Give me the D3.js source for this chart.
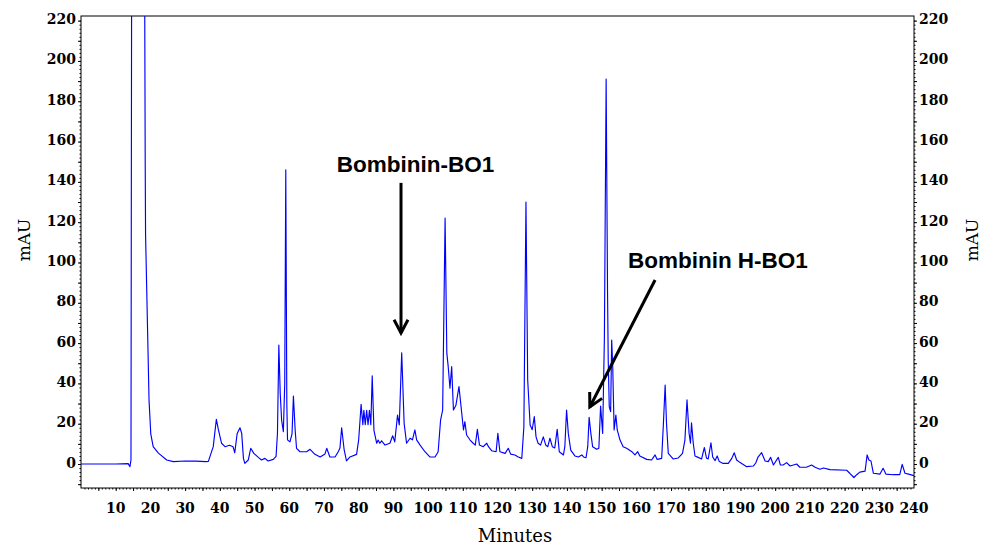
<!DOCTYPE html>
<html>
<head>
<meta charset="utf-8">
<script src="https://cdn.jsdelivr.net/npm/d3@7/dist/d3.min.js"></script>
<style>
  body { margin: 0; background: #fff; }
  .tick-label { font-family: "DejaVu Serif", serif; font-weight: bold; font-size: 14px; fill: #000; }
  .axis-title { font-family: "DejaVu Serif", serif; font-size: 18px; fill: #000; }
  .note { font-family: "Liberation Sans", Arial, sans-serif; font-weight: bold; font-size: 22.5px; fill: #000; }
</style>
</head>
<body>
<div id="chart"></div>
<script>
// retention time (minutes) and absorbance (mAU)
const minutes = [
  0, 5, 10, 13.6, 14.1, 14.4, 14.6, 18.3, 18.5, 18.6, 19.2, 19.6, 20.1, 20.8, 22.3, 24.7, 26.6, 30, 33, 36, 36.7,
  38.1, 39.0, 39.6, 40.5, 41.5, 42.8, 43.8, 44.3, 45.0, 45.8, 46.3, 46.8, 47.2, 48.2, 48.9, 49.8, 51.1, 52.0, 53.0,
  53.9, 55.4, 56.2, 56.6, 57.0, 57.4, 57.8, 58.3, 58.7, 59.0, 59.3, 59.5, 60.2, 60.8, 61.2, 61.7, 62.1, 63.1, 65,
  66, 67.4, 68.9, 70.3, 70.8, 71.7, 73.2, 74.1, 74.6, 75.1, 75.8, 76.5, 77.5, 79.4, 80.0, 80.4, 80.7, 81.2, 81.5,
  81.9, 82.3, 82.7, 83.1, 83.5, 83.9, 84.4, 85.2, 85.6, 86.1, 86.6, 87.6, 89, 89.8, 90.4, 91.2, 91.7, 92.4, 93.1,
  93.8, 94.8, 95.5, 96.2, 96.7, 97.7, 99.1, 100.5, 102, 102.9, 103.6, 104.2, 104.9, 105.4, 105.8, 106.3, 106.8,
  107.3, 108.0, 108.9, 109.7, 110.2, 110.6, 111.1, 112.1, 113, 113.6, 114.2, 114.8, 115.9, 116.9, 117.4, 118.3,
  119.6, 120.1, 120.7, 122.2, 123.1, 123.8, 125, 126, 127, 127.6, 128.2, 128.7, 129.4, 130.0, 130.6, 131.1, 131.7,
  132.4, 133.2, 133.9, 134.5, 135.1, 135.8, 136.5, 137.2, 137.8, 139, 139.4, 139.9, 140.4, 141.1, 142.3, 143.3,
  144.3, 144.8, 145.5, 146.0, 146.4, 146.9, 147.4, 148.6, 149.2, 149.7, 150.3, 150.8, 151.3, 151.7, 151.9, 152.2,
  152.6, 152.9, 153.2, 153.6, 154.1, 154.5, 155.3, 156.2, 157.2, 158.7, 159.6, 160.4, 161, 163, 164.4, 165.4, 166,
  167.3, 167.8, 168.3, 168.7, 169.2, 170.6, 172.1, 173.3, 174.0, 174.6, 175.2, 175.6, 175.9, 176.4, 176.9, 177.8,
  178.8, 179.6, 180.2, 180.7, 181.5, 182.0, 182.7, 183.3, 183.9, 185, 186.5, 187.5, 188.2, 188.9, 189.9, 191.8,
  193.7, 194.4, 195.1, 196.1, 197.1, 198, 198.7, 199.5, 200.9, 201.5, 202.3, 203.3, 204.3, 206.2, 207.1, 209,
  210.5, 211.5, 212.9, 213.9, 215.8, 220.6, 221.5, 222.7, 223.5, 224.4, 225.9, 226.5, 227.0, 227.6, 228.3, 230.2,
  231.1, 231.9, 234, 235.9, 236.6, 237.4, 238.4, 240
];
const mAU = [
  0, 0, 0, 0.2, -1.3, 2, 260, 260, 150, 114, 65, 31.8, 15, 8.6, 5.4, 2, 1.2, 1.5, 1.4, 1.2, 1.3,
  8.6, 22.2, 16.9, 10.3, 8.6, 9.3, 8.6, 5.6, 15.2, 18, 15.2, 2.8, 0.3, 2, 7.8, 5.3, 3.3, 2, 2.8,
  1.5, 2.3, 3.8, 15, 59, 35, 21.8, 16, 40, 146, 30, 12, 11, 15, 33.7, 16.9, 7.8, 6.1, 6.1,
  7.3, 4.8, 3.5, 5, 7.8, 3.5, 3.5, 6.1, 7.8, 18, 7.3, 1.5, 3.5, 4.8, 12, 21.8, 29.6, 19.5, 26.6,
  19.5, 26.6, 19.5, 26.6, 19.5, 43.7, 16.7, 10.3, 11.9, 10.3, 11.5, 9.4, 10.3, 14, 11, 24.3, 19.4, 55.2, 20.2,
  10.3, 12.8, 12, 16.9, 12, 9.4, 6.1, 3.5, 3.5, 6.1, 21.8, 26.8, 122, 55, 48.3, 37.6, 48.3,
  26.8, 29, 38.4, 25.2, 16.9, 21, 14.4, 11.9, 10.3, 9.4, 17.2, 9.4, 8.6, 10.3, 8.6, 6.6,
  6.1, 15.2, 6.1, 5.3, 7.8, 4.9, 4.5, 3.5, 2.8, 18.5, 130, 41.7, 19.4, 17, 23.5, 13.5, 10.3,
  9.4, 13.5, 9.4, 8.6, 12.8, 8.6, 8, 17.2, 6.1, 4.5, 8.6, 26.8, 15.2, 6.9, 4, 3.5,
  4.5, 3.5, 3.1, 8.6, 23.2, 15.2, 8.6, 7.3, 7.8, 28.8, 15.2, 63, 191, 86, 51.6, 28.4,
  26, 61.5, 48.3, 16.9, 24.3, 16.9, 11.9, 8.6, 7.8, 6.1, 4.5, 6.1, 4, 2.3, 2, 4.5, 2.3,
  2.8, 20, 39.2, 20, 5.3, 2.5, 3, 5.3, 11.9, 31.8, 15.2, 10.3, 20.5, 10.3, 4, 3.3,
  2.5, 8.2, 3, 2.5, 10.5, 3.5, 1.7, 4, 1.2, 0.3, 0.3, 2.8, 5.6, 2, 0.7, -1.3,
  -1, 0.5, 3.6, 5.6, 1.5, 1.2, 3.3, -0.5, 3.3, -0.5, -0.5, 0.7, -1, 0, -1.6, -1.6,
  -0.5, -1.6, -2.6, -2, -2.8, -3.1, -4.6, -6.7, -5.3, -4, -3.5, 4.5, 2, 1.5, -4.6, -5,
  -2.1, -5, -5.3, -5.3, -0.2, -4.6, -5, -5.8
];
const xTickLabels = d3.range(10, 241, 10);
const yTickLabels = d3.range(0, 221, 20);

// arrow annotations, in data units
const noteLabels = ["Bombinin-BO1", "Bombinin H-BO1"];
const noteTails = [[92.2, 139.5], [165.4, 91.3]];
const noteTips = [[92.2, 65], [146.6, 28.3]];
const noteText = [[96.4, 145], [183.5, 97.5]];

const width = 984, height = 546;
const plotLeft = 81, plotRight = 914, plotTop = 16, plotBottom = 488;

const svg = d3.select("#chart").append("svg")
  .attr("width", width)
  .attr("height", height);

const x = d3.scaleLinear().domain([0, 240]).range([plotLeft, plotRight]);
const y = d3.scaleLinear().domain([-11.9, 222.3]).range([plotBottom, plotTop]);

svg.append("clipPath").attr("id", "plot")
  .append("rect")
  .attr("x", plotLeft).attr("y", plotTop)
  .attr("width", plotRight - plotLeft).attr("height", plotBottom - plotTop);

// frame
svg.append("rect")
  .attr("x", plotLeft).attr("y", plotTop)
  .attr("width", plotRight - plotLeft).attr("height", plotBottom - plotTop)
  .attr("fill", "none")
  .attr("stroke", "#000")
  .attr("stroke-width", 1);

// axes: fine ticks, then the labelled ones
function tickAxis(axis, g) {
  g.call(axis);
  g.select(".domain").remove();
  g.selectAll("line").attr("stroke", "#000");
  return g;
}

tickAxis(d3.axisBottom(x).tickValues(d3.range(1, 240, 1)).tickSize(1.5).tickFormat(""),
  svg.append("g").attr("transform", `translate(0,${plotBottom})`));
tickAxis(d3.axisBottom(x).tickValues(d3.range(5, 240, 5)).tickSize(3).tickFormat(""),
  svg.append("g").attr("transform", `translate(0,${plotBottom})`));

tickAxis(d3.axisLeft(y).tickValues(d3.range(-10, 222, 2)).tickSize(1.5).tickFormat(""),
  svg.append("g").attr("transform", `translate(${plotLeft},0)`));
tickAxis(d3.axisLeft(y).tickValues(d3.range(-10, 222, 10)).tickSize(3).tickFormat(""),
  svg.append("g").attr("transform", `translate(${plotLeft},0)`));
tickAxis(d3.axisRight(y).tickValues(d3.range(-10, 222, 2)).tickSize(1.5).tickFormat(""),
  svg.append("g").attr("transform", `translate(${plotRight},0)`));
tickAxis(d3.axisRight(y).tickValues(d3.range(-10, 222, 10)).tickSize(3).tickFormat(""),
  svg.append("g").attr("transform", `translate(${plotRight},0)`));

svg.append("g").selectAll("text")
  .data(xTickLabels)
  .join("text")
  .attr("class", "tick-label")
  .attr("x", d => x(d))
  .attr("y", 513)
  .attr("text-anchor", "middle")
  .text(d => d);

svg.append("g").selectAll("text")
  .data(yTickLabels)
  .join("text")
  .attr("class", "tick-label")
  .attr("x", plotLeft - 5)
  .attr("y", d => y(d) + 3.5)
  .attr("text-anchor", "end")
  .text(d => d);

svg.append("g").selectAll("text")
  .data(yTickLabels)
  .join("text")
  .attr("class", "tick-label")
  .attr("x", plotRight + 5)
  .attr("y", d => y(d) + 3.5)
  .attr("text-anchor", "start")
  .text(d => d);

svg.append("text")
  .attr("class", "axis-title")
  .attr("x", 515).attr("y", 542)
  .attr("text-anchor", "middle")
  .text("Minutes");

[30, 978].forEach(px => {
  svg.append("text")
    .attr("class", "axis-title")
    .attr("transform", `translate(${px},240) rotate(-90)`)
    .attr("text-anchor", "middle")
    .style("font-size", "17px")
    .text("mAU");
});

// trace
const line = d3.line()
  .x((d, i) => x(minutes[i]))
  .y(d => y(d));

svg.append("path")
  .datum(mAU)
  .attr("clip-path", "url(#plot)")
  .attr("fill", "none")
  .attr("stroke", "#0000ff")
  .attr("stroke-width", 1.15)
  .attr("stroke-linejoin", "round")
  .attr("d", line);

// annotations
noteLabels.forEach((label, i) => {
  const x0 = x(noteTails[i][0]), y0 = y(noteTails[i][1]);
  const x1 = x(noteTips[i][0]), y1 = y(noteTips[i][1]);
  const ang = Math.atan2(y1 - y0, x1 - x0);
  const len = 15, spread = Math.PI / 6.5;
  svg.append("line")
    .attr("x1", x0).attr("y1", y0)
    .attr("x2", x1).attr("y2", y1)
    .attr("stroke", "#000").attr("stroke-width", 3);
  const p1 = [x1 - len * Math.cos(ang - spread), y1 - len * Math.sin(ang - spread)];
  const p2 = [x1 - len * Math.cos(ang + spread), y1 - len * Math.sin(ang + spread)];
  svg.append("path")
    .attr("d", `M${p1[0]},${p1[1]}L${x1},${y1}L${p2[0]},${p2[1]}`)
    .attr("fill", "none")
    .attr("stroke", "#000")
    .attr("stroke-width", 3)
    .attr("stroke-linejoin", "miter");
  svg.append("text")
    .attr("class", "note")
    .attr("x", x(noteText[i][0]))
    .attr("y", y(noteText[i][1]))
    .attr("text-anchor", "middle")
    .text(label);
});
</script>
</body>
</html>
